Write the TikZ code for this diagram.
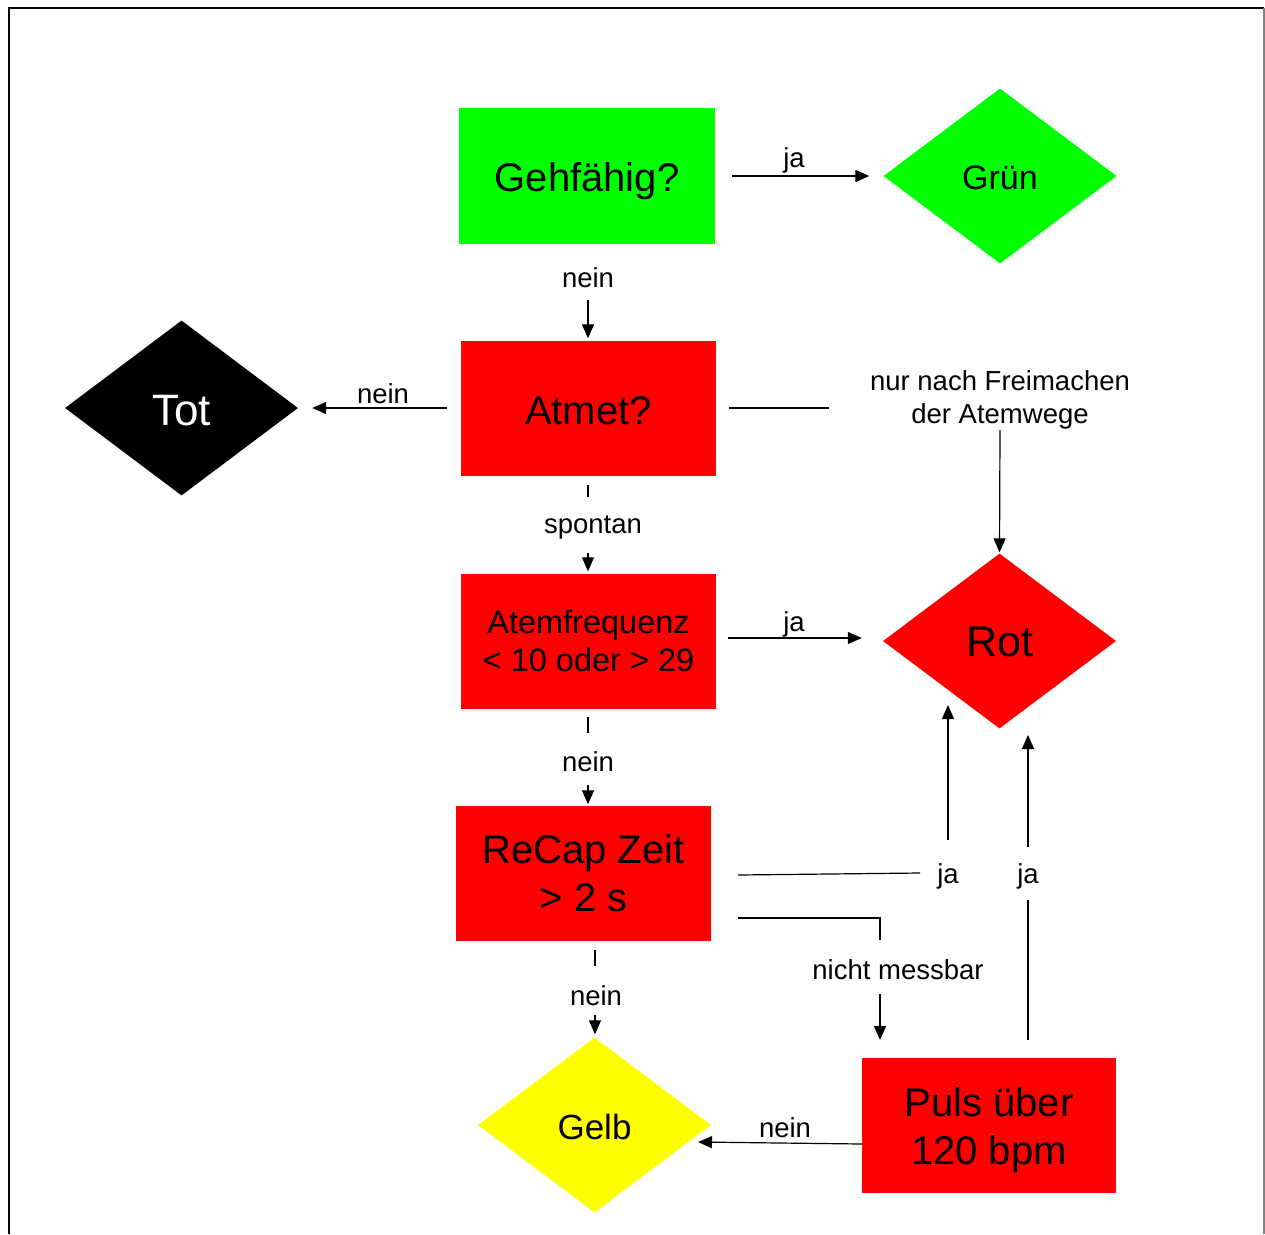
\documentclass[tikz,border=0pt]{standalone}
\usepackage{fontspec}
\setmainfont{Liberation Sans}
\usetikzlibrary{shapes.geometric,arrows.meta}
\definecolor{fgreen}{RGB}{0,255,0}
\definecolor{fred}{RGB}{255,0,0}
\definecolor{fyellow}{RGB}{255,255,0}
\newcommand\lowr[2]{\raisebox{-#1}[\height][\depth]{#2}}
\tikzset{
  boxnode/.style={rectangle, draw=none, minimum width=255pt, minimum height=135pt, inner sep=0pt, align=center, text=black},
  dianode/.style={diamond, draw=none, minimum width=233pt, minimum height=175pt, inner sep=0pt, align=center},
  lbl/.style={inner sep=0pt, align=center, font=\fontsize{27.5}{33}\selectfont},
  conn/.style={line width=1.2pt, draw=black},
  arr/.style={conn, -{Triangle[length=14pt,width=12pt]}},
  big/.style={font=\fontsize{40}{48}\selectfont},
}
\begin{document}
\begin{tikzpicture}[x=1pt,y=-1pt]
\useasboundingbox (0,0) rectangle (1265,1234);
% frame
\draw[line width=2pt, black] (9,1234) -- (9,7.5) -- (1264,7.5);
\draw[line width=1.5pt, gray] (1264,7.5) -- (1264,1234);

% nodes
\node[boxnode, fill=fgreen, minimum width=256pt, minimum height=136pt, big] (geh) at (587,176) {\lowr{5pt}{Gehfähig?}};
\node[dianode, fill=fgreen, font=\fontsize{34}{40}\selectfont] (gruen) at (1000,176) {\lowr{2pt}{Grün}};
\node[boxnode, fill=fred, big] (atmet) at (588.5,408) {\lowr{3pt}{Atmet?}};
\node[dianode, fill=black, text=white, font=\fontsize{44}{50}\selectfont] (tot) at (181.5,408) {\lowr{3pt}{Tot}};
\node[boxnode, fill=fred, font=\fontsize{32.5}{38}\selectfont] (atfr) at (588.5,641) {Atemfrequenz\\\textless{} 10 oder \textgreater{} 29};
\node[dianode, fill=fred, font=\fontsize{43}{50}\selectfont] (rot) at (999.5,641) {\lowr{1pt}{Rot}};
\node[boxnode, fill=fred, big] (recap) at (583.5,873) {ReCap Zeit\\\textgreater{} 2 s};
\node[dianode, fill=fyellow, font=\fontsize{35}{42}\selectfont] (gelb) at (594.5,1125) {\lowr{2pt}{Gelb}};
\node[boxnode, fill=fred, minimum width=254pt, big] (puls) at (989,1125.5) {\lowr{5pt}{\begin{tabular}{@{}c@{}}Puls über\\120 bpm\end{tabular}}};

% labels
\node[lbl] (lja1) at (794,160) {ja};
\node[lbl] (lnein1) at (588,278) {nein};
\node[lbl] (lnein2) at (383,394) {nein};
\node[lbl] (lfrei) at (1000,400) {nur nach Freimachen\\der Atemwege};
\node[lbl] (lspontan) at (593,527.5) {spontan};
\node[lbl] (lja2) at (794,624) {ja};
\node[lbl] (lnein3) at (588,762) {nein};
\node[lbl] (lja3) at (948,876) {ja};
\node[lbl] (lja4) at (1028,876) {ja};
\node[lbl] (lnicht) at (898,970) {nicht messbar};
\node[lbl] (lnein4) at (596,996) {nein};
\node[lbl] (lnein5) at (785,1128) {nein};

% coordinates for free ends
\coordinate (c1) at (588,300);
\coordinate (c2) at (829,408);
\coordinate (c3) at (1000,430);
\coordinate (c4) at (588,497);
\coordinate (c5) at (588,553);
\coordinate (c6) at (588,717);
\coordinate (c7) at (588,733);
\coordinate (c8) at (588,785);
\coordinate (c9) at (738,875);
\coordinate (c10) at (920,873);
\coordinate (c11) at (948,840);
\coordinate (c12) at (948,705);
\coordinate (c13) at (738,918);
\coordinate (c14) at (880,918);
\coordinate (c15) at (880,940);
\coordinate (c16) at (880,994);
\coordinate (c17) at (880,1040);
\coordinate (c18) at (1028,1040);
\coordinate (c19) at (1028,900);
\coordinate (c20) at (1028,847);
\coordinate (c21) at (1028,735);
\coordinate (c22) at (595,950);
\coordinate (c23) at (595,966);
\coordinate (c24) at (595,1015);
\coordinate (c25) at (862,1144);
\coordinate (c26) at (698,1142);

% connectors
\draw[arr, shorten <=17pt, shorten >=14pt] (geh.east) -- (gruen.west);
\draw[arr, shorten >=2pt] (c1) -- (c1 |- atmet.north);
\draw[arr, shorten <=14pt, shorten >=14pt] (atmet.west) -- (tot.east);
\draw[conn, shorten <=13pt] (atmet.east) -- (c2);
\draw[arr, shorten >=1pt] (c3) -- (rot.north);
\draw[conn] (c4 |- atmet.south) ++(0,9) -- (c4);
\draw[arr, shorten >=2pt] (c5) -- (c5 |- atfr.north);
\draw[arr, shorten <=12pt, shorten >=21pt] ([yshift=3pt]atfr.east) -- ([yshift=3pt]rot.west);
\draw[conn] (c6) -- (c7);
\draw[arr, shorten >=1pt] (c8) -- (c8 |- recap.north);
\draw[conn] (c9) -- (c10);
\draw[arr] (c11) -- (c12);
\draw[conn] (c13) -- (c14) -- (c15);
\draw[arr] (c16) -- (c17);
\draw[conn] (c18) -- (c19);
\draw[arr] (c20) -- (c21);
\draw[conn] (c22) -- (c23);
\draw[arr, shorten >=3pt] (c24) -- (c24 |- gelb.north);
\draw[arr] (c25) -- (c26);
\end{tikzpicture}
\end{document}
